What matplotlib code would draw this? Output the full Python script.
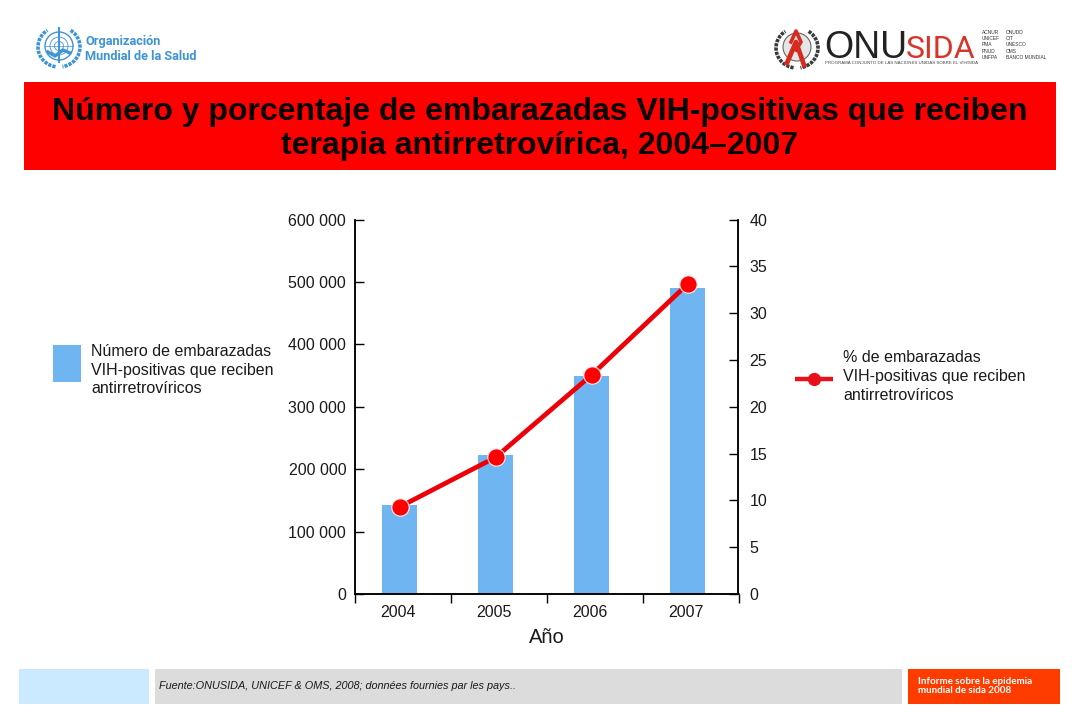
import matplotlib
matplotlib.use("Agg")
import matplotlib.pyplot as plt
from matplotlib.patches import Rectangle, Circle, Arc
from matplotlib.ticker import FuncFormatter

plt.rcParams['font.family'] = ['Liberation Sans', 'DejaVu Sans']

years = ['2004', '2005', '2006', '2007']
pregnant_women = [142000, 222000, 350000, 491000]
percent_women = [9.3, 14.6, 23.4, 33.1]

left_ticks = [0, 100000, 200000, 300000, 400000, 500000, 600000]
right_ticks = [0, 5, 10, 15, 20, 25, 30, 35, 40]

title = 'Número y porcentaje de embarazadas VIH-positivas que reciben\nterapia antirretrovírica, 2004–2007'
left_legend = 'Número de embarazadas\nVIH-positivas que reciben\nantirretrovíricos'
right_legend = '% de embarazadas\nVIH-positivas que reciben\nantirretrovíricos'
source = 'Fuente:ONUSIDA, UNICEF & OMS, 2008; données fournies par les pays..'
report = 'Informe sobre la epidemia\nmundial de sida 2008'

BAR_BLUE = '#6fb5f2'
RED = '#ff0000'
LINE_RED = '#e8101a'
WHO_BLUE = '#3f94d6'
TEXT = '#1a1a1a'
ROBOTO = ['Roboto', 'DejaVu Sans']

W, H = 1080, 720
fig = plt.figure(figsize=(W / 100, H / 100), dpi=100)

# page furniture, drawn in pixel coordinates
bg = fig.add_axes([0, 0, 1, 1])
bg.set_xlim(0, W)
bg.set_ylim(H, 0)
bg.axis('off')


def box(x0, y0, x1, y1, color):
    bg.add_patch(Rectangle((x0, y0), x1 - x0, y1 - y0, color=color, lw=0))


def wreath(cx, cy, color):
    # y axis is flipped here, angles run clockwise from the right
    bg.add_patch(Arc((cx, cy), 42, 40, theta1=-55, theta2=80, ec=color, lw=2.6, ls=(0, (0.9, 0.3))))
    bg.add_patch(Arc((cx, cy), 42, 40, theta1=100, theta2=235, ec=color, lw=2.6, ls=(0, (0.9, 0.3))))


box(24, 82, 1056, 170, RED)
bg.text(540, 129, title, ha='center', va='center', fontsize=23, fontweight='bold',
        color='#0a0000', linespacing=1.14)

box(19, 669, 149, 704, '#cbeaff')
box(155, 669, 902, 704, '#dcdcdc')
box(908, 669, 1060, 704, '#ff3c00')
bg.text(159, 686, source, ha='left', va='center', fontsize=7.8, style='italic', color=TEXT)
bg.text(918, 686, report, ha='left', va='center', fontsize=7.1, fontweight='bold',
        color='white', family=['Lato', 'DejaVu Sans'], linespacing=1.1)

# left legend
box(53, 345, 81, 382, BAR_BLUE)
bg.text(91, 370, left_legend, ha='left', va='center', fontsize=11.5, color=TEXT, linespacing=1.3)

# right legend
bg.plot([795, 833], [379, 379], color=LINE_RED, lw=3.2, solid_capstyle='butt')
bg.plot([814], [379], 'o', color=LINE_RED, ms=8.5)
bg.text(843, 376.5, right_legend, ha='left', va='center', fontsize=11.5, color=TEXT, linespacing=1.3)

# WHO logo
wreath(59, 47, WHO_BLUE)
bg.add_patch(Circle((59, 46), 14, fill=False, ec=WHO_BLUE, lw=1.0))
bg.add_patch(Circle((59, 46), 9, fill=False, ec=WHO_BLUE, lw=0.6))
bg.add_patch(Circle((59, 46), 4.5, fill=False, ec=WHO_BLUE, lw=0.6))
bg.plot([59, 59], [28, 62], color=WHO_BLUE, lw=1.4)
bg.plot([45, 73], [46, 46], color=WHO_BLUE, lw=0.5)
bg.plot([48, 55, 63, 70], [52, 56, 50, 53], color=WHO_BLUE, lw=2.4)
bg.text(85, 41.5, 'Organización', ha='left', va='center', fontsize=9.2, fontweight='bold',
        color=WHO_BLUE, family=ROBOTO)
bg.text(85, 57, 'Mundial de la Salud', ha='left', va='center', fontsize=9.2, fontweight='bold',
        color=WHO_BLUE, family=ROBOTO)

# ONUSIDA logo
wreath(797, 48, '#3a3a3a')
bg.add_patch(Circle((797, 47), 14, color='#e6e6e6', lw=0))
bg.add_patch(Circle((797, 47), 14, fill=False, ec='#666666', lw=0.8))
bg.plot([804, 796, 787], [65, 42, 63], color='#d62b1f', lw=3.4)
bg.plot([791, 796, 801, 796], [42, 31, 42, 50], color='#d62b1f', lw=2.6)
bg.text(824, 58, 'ONU', ha='left', va='baseline', fontsize=27, color='#222222')
bg.text(906, 58, 'SIDA', ha='left', va='baseline', fontsize=23, color='#d8342a', family=ROBOTO)
bg.text(825, 63, 'PROGRAMA CONJUNTO DE LAS NACIONES UNIDAS SOBRE EL VIH/SIDA', ha='left', va='center',
        fontsize=3.2, color='#444444')
bg.text(982, 45, 'ACNUR\nUNICEF\nPMA\nPNUD\nUNFPA', ha='left', va='center', fontsize=3.5,
        color='#333333', linespacing=1.3)
bg.text(1006, 45, 'ONUDD\nOIT\nUNESCO\nOMS\nBANCO MUNDIAL', ha='left', va='center', fontsize=3.5,
        color='#333333', linespacing=1.3)

# chart
ax = fig.add_axes([354.5 / W, 1 - 594 / H, (738.5 - 354.5) / W, (594 - 219.5) / H])
ax.patch.set_alpha(0)
positions = list(range(len(years)))
ax.bar(positions, pregnant_women, width=0.37, color=BAR_BLUE, zorder=2)
ax.set_xlim(-0.47, 3.53)
ax.set_ylim(0, 600000)
ax.set_yticks(left_ticks)
ax.yaxis.set_major_formatter(FuncFormatter(lambda v, p: f'{int(v):,}'.replace(',', ' ')))
ax.tick_params(axis='y', direction='in', length=6.2, width=1, labelsize=11.5, labelcolor=TEXT, pad=6)

# year labels sit on minor ticks, the visible marks go between the bars
ax.set_xticks([-0.47 + i for i in range(len(years) + 1)])
ax.set_xticklabels([])
ax.set_xticks([p - 0.015 for p in positions], minor=True)
ax.set_xticklabels(years, minor=True)
ax.tick_params(axis='x', which='major', direction='out', length=6.2, width=1)
ax.tick_params(axis='x', which='minor', length=0, labelsize=11.5, labelcolor=TEXT, pad=8)
ax.set_xlabel('Año', fontsize=14.5, color=TEXT, labelpad=6)

ax2 = ax.twinx()
ax2.plot(positions, percent_women, color='#ee0008', lw=3.4, marker='o', ms=12.5,
         mfc=RED, mec='#ffe8e8', mew=0.8, zorder=5)
ax2.set_ylim(0, 40)
ax2.set_yticks(right_ticks)
ax2.tick_params(axis='y', direction='in', length=6.2, width=1, labelsize=11.5, labelcolor=TEXT, pad=8)

for a in (ax, ax2):
    a.spines['top'].set_visible(False)
    for s in a.spines.values():
        s.set_linewidth(1.1)

fig.savefig('out.png', dpi=100)
